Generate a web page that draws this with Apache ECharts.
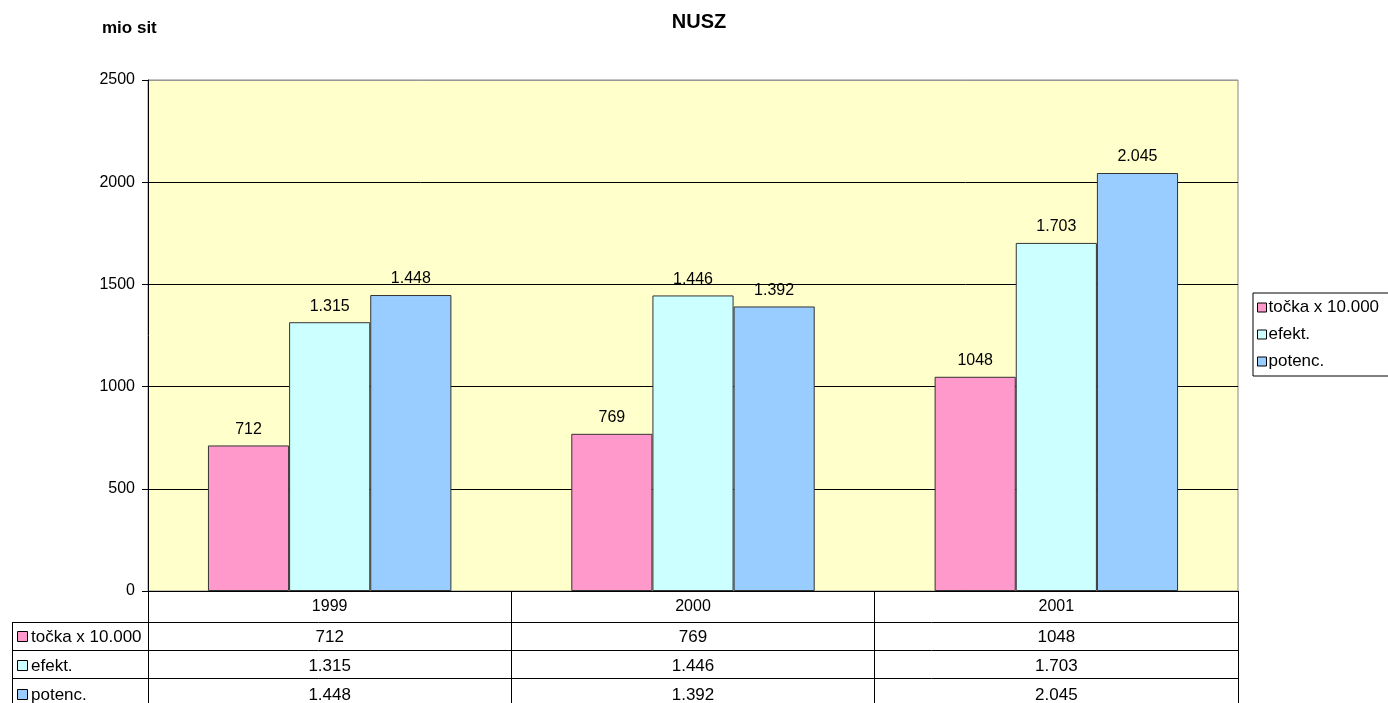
<!DOCTYPE html>
<html>
<head>
<meta charset="utf-8">
<script src="https://cdn.jsdelivr.net/npm/echarts@6/dist/echarts.min.js"></script>
<style>
  html, body { margin: 0; padding: 0; background: #fff; }
  #main { width: 1388px; height: 703px; }
</style>
</head>
<body>
<div id="main"></div>
<script>
var years = ['1999', '2000', '2001'];
var seriesNames = ['točka x 10.000', 'efekt.', 'potenc.'];
var tocka = [712, 769, 1048];
var efekt = [1315, 1446, 1703];
var potenc = [1448, 1392, 2045];
var useSep = [false, true, true];   // pink row is shown without thousands dot
var colors = ['#FF99CC', '#CCFFFF', '#99CCFF'];

var FONT = 'Liberation Sans, Arial, sans-serif';
var gridL = 148, gridR = 150, gridT = 80, gridB = 112;

function fmt(v, sep) {
    var s = String(v);
    if (!sep) return s;
    return s.replace(/\B(?=(\d{3})+(?!\d))/g, '.');
}

var allData = [tocka, efekt, potenc];
var series = allData.map(function (d, i) {
    return {
        name: seriesNames[i],
        type: 'bar',
        data: d,
        barGap: '0%',
        barCategoryGap: '33%',
        itemStyle: { color: colors[i], borderColor: '#333', borderWidth: 1 },
        label: {
            show: true,
            position: 'top',
            distance: 8,
            color: '#000',
            fontFamily: FONT,
            fontSize: 16,
            formatter: function (p) { return fmt(p.value, useSep[i]); }
        }
    };
});

var myChart = echarts.init(document.getElementById('main'));
myChart.setOption({
    animation: false,
    backgroundColor: '#fff',
    title: [
        { text: 'NUSZ', left: 694, top: 7, textAlign: 'center',
          textStyle: { fontFamily: FONT, fontSize: 20, fontWeight: 'bold', color: '#000' } },
        { text: 'mio sit', left: 97, top: 15,
          textStyle: { fontFamily: FONT, fontSize: 17, fontWeight: 'bold', color: '#000' } }
    ],
    legend: {
        orient: 'vertical',
        left: 1253,
        top: 293,
        padding: [6, 30, 6, 4],
        borderColor: '#000',
        borderWidth: 1,
        itemWidth: 9,
        itemHeight: 9,
        itemGap: 10,
        icon: 'rect',
        textStyle: { fontFamily: FONT, fontSize: 17, color: '#000', padding: [0, 0, 0, -3] },
        itemStyle: { borderColor: '#000', borderWidth: 1 },
        data: seriesNames
    },
    grid: {
        left: gridL, right: gridR, top: gridT, bottom: gridB,
        show: true, backgroundColor: '#FFFFCC', borderColor: '#888', borderWidth: 1
    },
    xAxis: {
        type: 'category',
        data: years,
        axisLine: { lineStyle: { color: '#000', width: 1 } },
        axisTick: { show: true, length: gridB, lineStyle: { color: '#000' } },
        axisLabel: { color: '#000', fontFamily: FONT, fontSize: 16, margin: 8 }
    },
    yAxis: {
        type: 'value',
        min: 0,
        max: 2500,
        interval: 500,
        axisLine: { show: true, lineStyle: { color: '#000' } },
        axisTick: { show: true, length: 6, lineStyle: { color: '#000' } },
        axisLabel: { color: '#000', fontFamily: FONT, fontSize: 16, margin: 13,
                     formatter: function (v) { return String(v); } },
        splitLine: { lineStyle: { color: ['#000', '#000', '#000', '#000', '#000', '#999'], width: 1 } }
    },
    series: series
});

// data table under the plot, positioned from the category axis
var xRight = 1388 - gridR;
var tableL = 12;
var rowLines = [622, 650, 678];
var rowMid = [637, 666, 695];
var g = [];
rowLines.forEach(function (y) {
    g.push({ type: 'line', shape: { x1: tableL, y1: y + 0.5, x2: xRight, y2: y + 0.5 }, style: { stroke: '#000', lineWidth: 1 }, silent: true });
});
g.push({ type: 'line', shape: { x1: tableL + 0.5, y1: rowLines[0], x2: tableL + 0.5, y2: 703 }, style: { stroke: '#000', lineWidth: 1 }, silent: true });
allData.forEach(function (d, i) {
    g.push({ type: 'rect', shape: { x: 17.5, y: rowMid[i] - 5.5, width: 10, height: 10 },
             style: { fill: colors[i], stroke: '#000', lineWidth: 1 }, silent: true });
    g.push({ type: 'text', x: 31, y: rowMid[i], style: { text: seriesNames[i], font: '17px ' + FONT, fill: '#000', textVerticalAlign: 'middle' }, silent: true });
    d.forEach(function (v, j) {
        var cx = myChart.convertToPixel({ xAxisIndex: 0 }, years[j]);
        g.push({ type: 'text', x: cx, y: rowMid[i], style: { text: fmt(v, useSep[i]), font: '17px ' + FONT, fill: '#000', textAlign: 'center', textVerticalAlign: 'middle' }, silent: true });
    });
});
myChart.setOption({ graphic: g });
</script>
</body>
</html>
